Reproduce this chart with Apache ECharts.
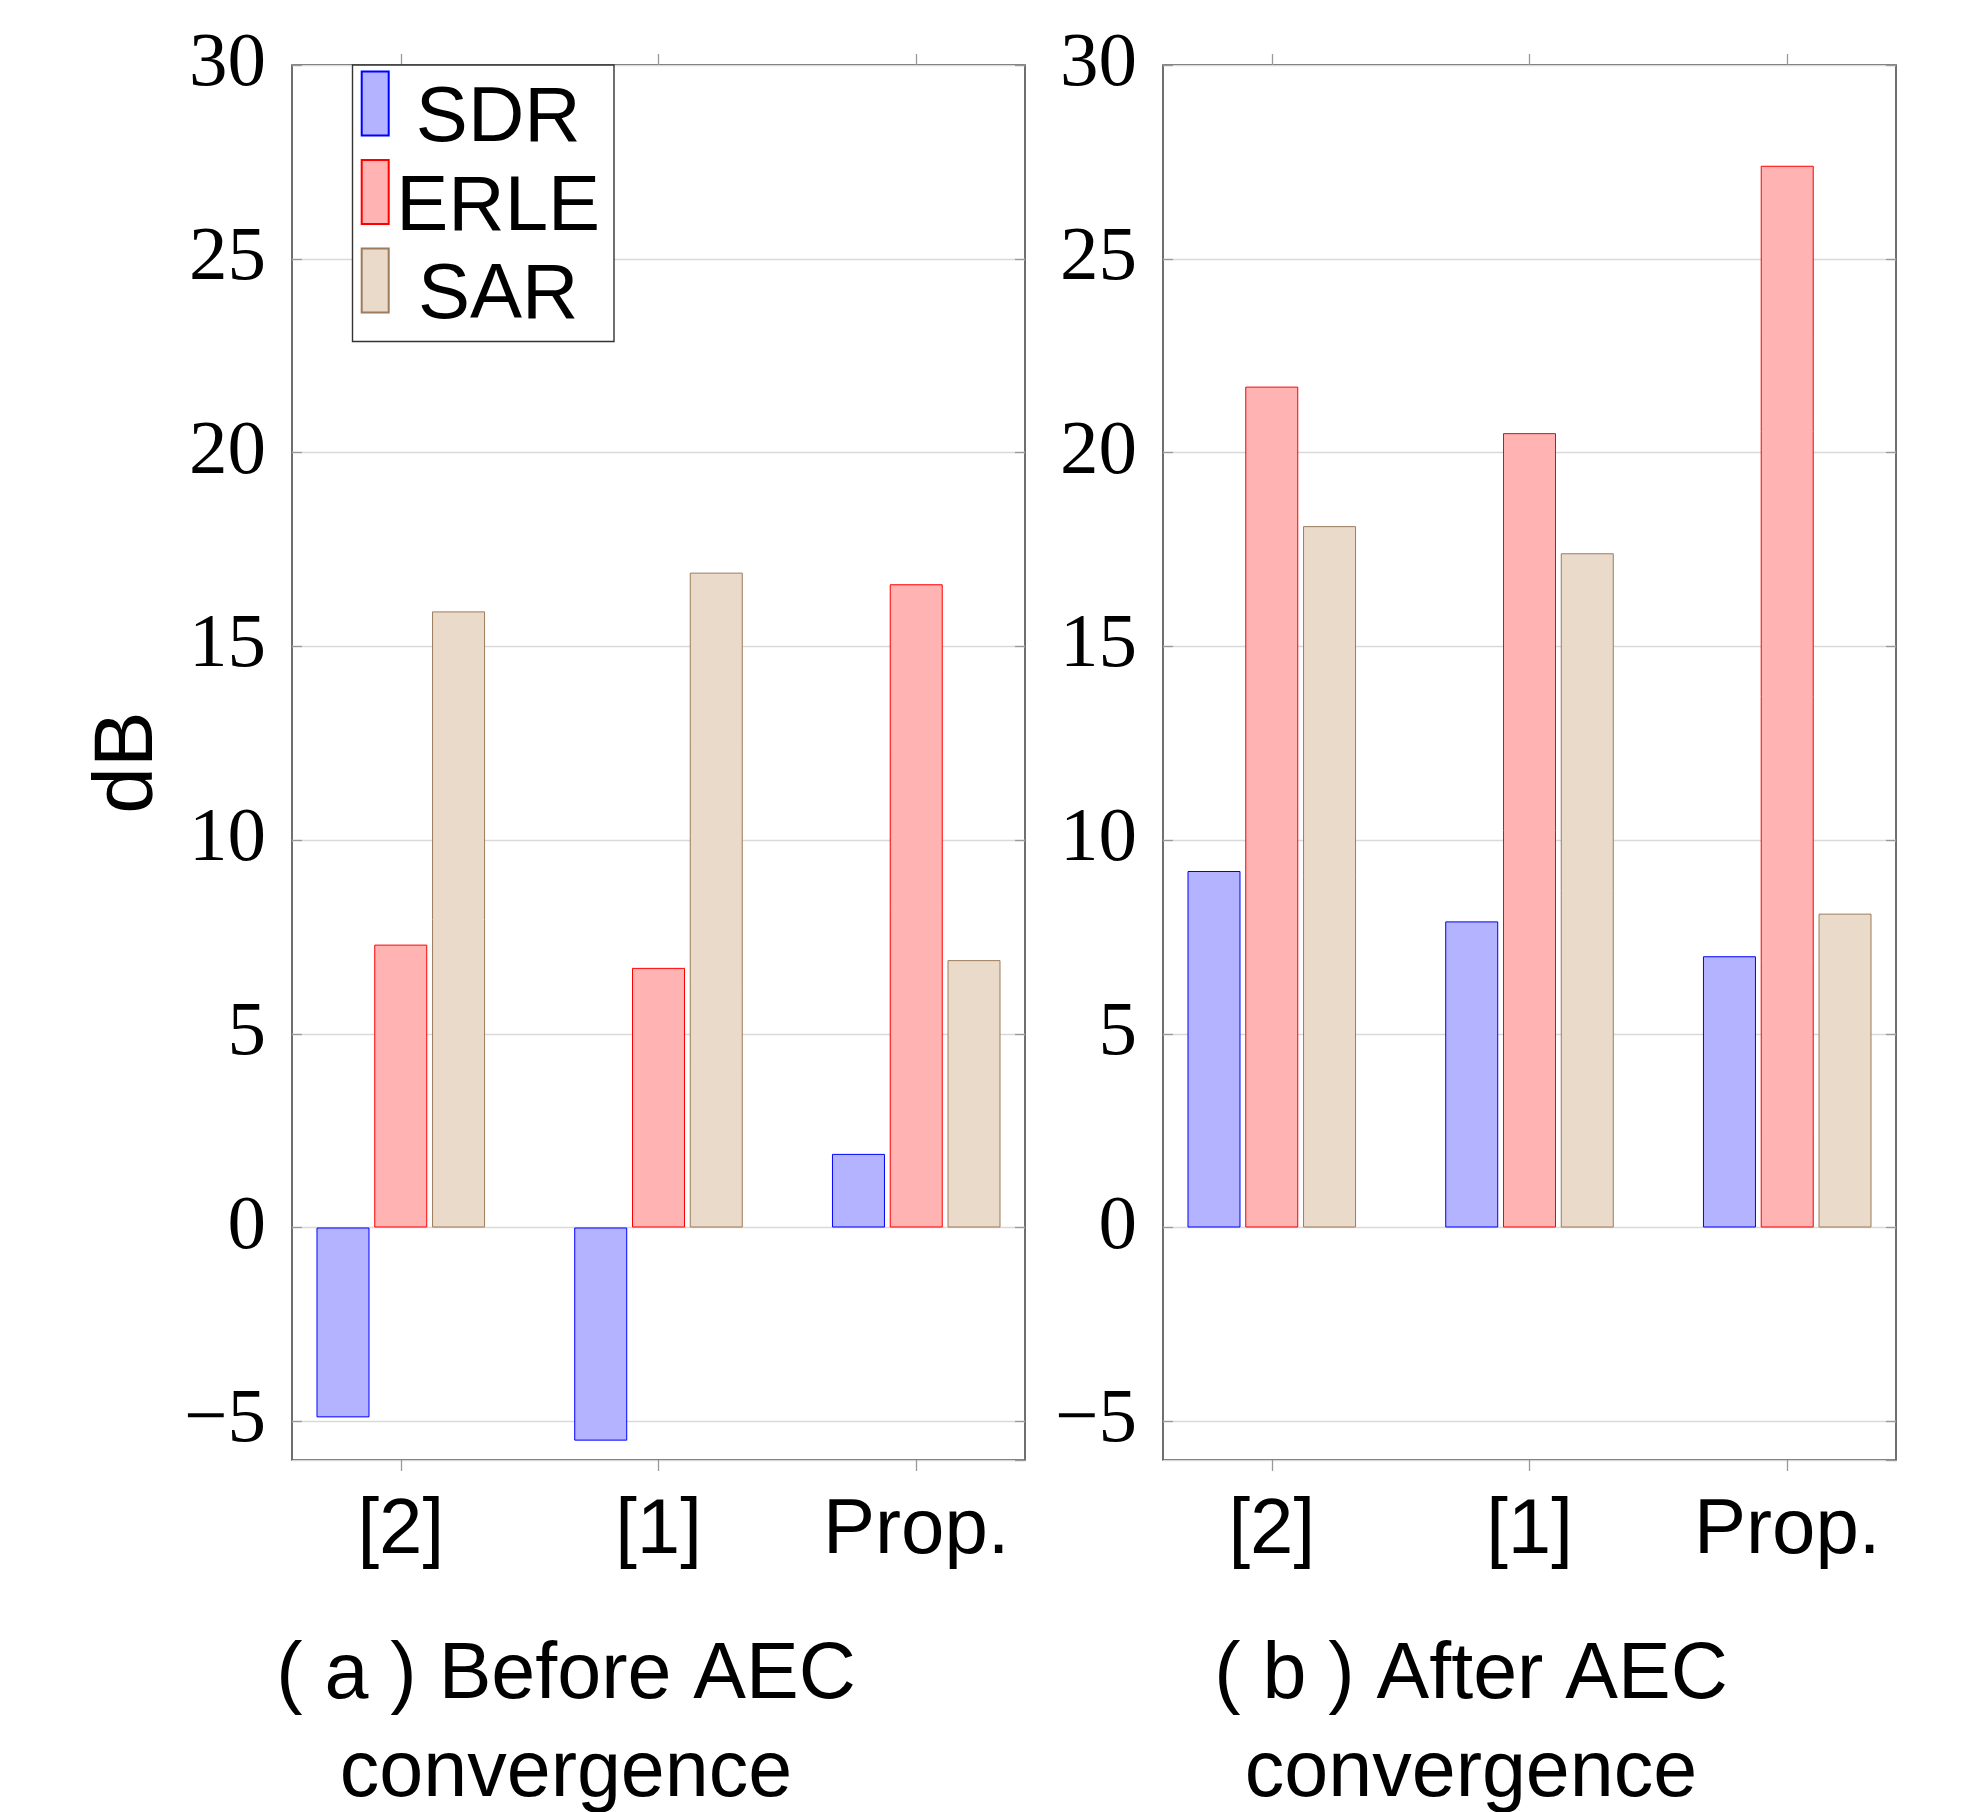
<!DOCTYPE html>
<html>
<head>
<meta charset="utf-8">
<script src="https://cdn.jsdelivr.net/npm/echarts@6/dist/echarts.min.js"></script>
<style>
html,body{margin:0;padding:0;background:#fff;}
#chart{width:1968px;height:1812px;}
</style>
</head>
<body>
<div id="chart"></div>
<script>
const categories = ['[2]', '[1]', 'Prop.'];
const seriesNames = ['SDR', 'ERLE', 'SAR'];
const yTicks = [-5, 0, 5, 10, 15, 20, 25, 30];

// (a) Before AEC convergence
const beforeSDR  = [-4.9, -5.5, 1.9];
const beforeERLE = [7.3, 6.7, 16.6];
const beforeSAR  = [15.9, 16.9, 6.9];

// (b) After AEC convergence
const afterSDR  = [9.2, 7.9, 7.0];
const afterERLE = [21.7, 20.5, 27.4];
const afterSAR  = [18.1, 17.4, 8.1];

const captions = ['( a ) Before AEC\nconvergence', '( b ) After AEC\nconvergence'];

const fills   = {SDR: '#b3b3ff', ERLE: '#ffb3b3', SAR: '#eadaca'};
const strokes = {SDR: '#0000ff', ERLE: '#ff0000', SAR: '#9c7c5c'};

const SANS = '"Liberation Sans", Arial, Helvetica, sans-serif';
const SERIF = '"Liberation Serif", "DejaVu Serif", serif';

const gridDefs = [
  {left: 292, top: 65, width: 733, height: 1395},
  {left: 1163, top: 65, width: 733, height: 1395}
];
const tickIdx = categories.map((c, i) => i);

function fmtY(v) { return v < 0 ? '\u2212' + Math.abs(v) : String(v); }

const grids = gridDefs.map(g => Object.assign({show: true, borderColor: '#333', borderWidth: 1.4, backgroundColor: 'transparent', containLabel: false}, g));

const xAxes = [], yAxes = [];
gridDefs.forEach((g, gi) => {
  xAxes.push({
    type: 'value', gridIndex: gi, position: 'bottom', min: -0.422, max: 2.422,
    axisLine: {show: false, onZero: false}, splitLine: {show: false},
    axisTick: {show: true, inside: false, length: 11, customValues: tickIdx, lineStyle: {color: '#999', width: 1.3}},
    axisLabel: {show: true, customValues: tickIdx, margin: 32, fontSize: 78, fontFamily: SANS, color: '#000',
      formatter: v => categories[Math.round(v)]}
  });
  xAxes.push({
    type: 'value', gridIndex: gi, position: 'top', min: -0.422, max: 2.422,
    axisLine: {show: false, onZero: false}, splitLine: {show: false},
    axisTick: {show: true, inside: false, length: 11, customValues: tickIdx, lineStyle: {color: '#999', width: 1.3}},
    axisLabel: {show: false}
  });
  yAxes.push({
    type: 'value', gridIndex: gi, position: 'left', min: -6, max: 30,
    minInterval: 5, maxInterval: 5, splitNumber: 7,
    axisLine: {show: false, onZero: false},
    axisTick: {show: true, inside: true, length: 10, lineStyle: {color: '#999', width: 1.3}},
    splitLine: {show: true, lineStyle: {color: '#d9d9d9', width: 1.3}},
    axisLabel: {show: true, margin: 26, fontSize: 77, fontFamily: SERIF, color: '#000', showMinLabel: false,
      formatter: v => (yTicks.indexOf(v) >= 0 ? fmtY(v) : '')},
    name: gi === 0 ? 'dB' : '', nameLocation: 'middle', nameGap: 121,
    nameTextStyle: {fontSize: 84, fontFamily: SANS, color: '#000'}
  });
  yAxes.push({
    type: 'value', gridIndex: gi, position: 'right', min: -6, max: 30,
    minInterval: 5, maxInterval: 5, splitNumber: 7,
    axisLine: {show: false, onZero: false}, splitLine: {show: false},
    axisTick: {show: true, inside: true, length: 10, lineStyle: {color: '#999', width: 1.3}},
    axisLabel: {show: false}
  });
});

const panelData = [
  {SDR: beforeSDR, ERLE: beforeERLE, SAR: beforeSAR},
  {SDR: afterSDR, ERLE: afterERLE, SAR: afterSAR}
];

const series = [];
panelData.forEach((pd, gi) => {
  seriesNames.forEach(name => {
    series.push({
      type: 'bar', name: name,
      xAxisIndex: gi * 2, yAxisIndex: gi * 2,
      data: pd[name].map((v, i) => [i, v]),
      barWidth: 53, barGap: '9%',
      itemStyle: {color: fills[name], borderColor: strokes[name], borderWidth: 1},
      emphasis: {disabled: true},
      animation: false
    });
  });
});

const option = {
  backgroundColor: '#fff',
  animation: false,
  title: captions.map((t, i) => ({
    text: t, left: i === 0 ? 561 : 1466, top: 1622, textAlign: 'center',
    textStyle: {fontSize: 79, lineHeight: 98, fontWeight: 'normal', fontFamily: SANS, color: '#000'}
  })),
  // legend frame
  graphic: [{
    type: 'rect', z: 3, silent: true,
    shape: {x: 352.5, y: 65, width: 261.5, height: 276.5},
    style: {fill: '#fff', stroke: '#333', lineWidth: 1.4}
  }],
  legend: {
    data: seriesNames, orient: 'vertical', left: 360.7, top: 70.6, z: 5,
    itemWidth: 27, itemHeight: 64, itemGap: 0.5,
    padding: 0, borderWidth: 0, backgroundColor: 'transparent',
    icon: 'rect', selectedMode: false,
    formatter: n => '{t|' + n + '}',
    textStyle: {
      color: '#000', fontFamily: SANS, fontSize: 78,
      rich: {t: {width: 209, align: 'center', fontSize: 78, padding: [32, 0, 0, 0], fontFamily: SANS, color: '#000'}}
    }
  },
  grid: grids,
  xAxis: xAxes,
  yAxis: yAxes,
  series: series
};

const chart = echarts.init(document.getElementById('chart'), null, {renderer: 'canvas'});
chart.setOption(option);
</script>
</body>
</html>
